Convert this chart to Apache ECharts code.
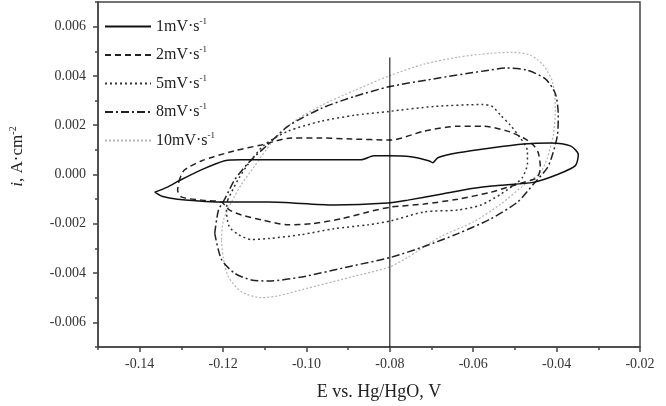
<!DOCTYPE html>
<html>
<head>
<meta charset="utf-8">
<script src="https://cdn.jsdelivr.net/npm/echarts@6/dist/echarts.min.js"></script>
<style>
  html, body { margin: 0; padding: 0; background: #fff; }
  #chart { width: 666px; height: 406px; }
</style>
</head>
<body>
<div id="chart"></div>
<script>
// scan rates (legend labels)
const names = ['1mV·s-1', '2mV·s-1', '5mV·s-1', '8mV·s-1', '10mV·s-1'];

const e1 = [-0.1364, -0.1335, -0.1304, -0.1251, -0.1196, -0.1156, -0.1012, -0.0869, -0.0838, -0.0802, -0.0750, -0.0707, -0.0697, -0.0685, -0.0637, -0.0558, -0.0479, -0.0415, -0.0367, -0.0348, -0.0355, -0.0398, -0.0456, -0.0534, -0.0599, -0.0678, -0.0757, -0.0805, -0.0934, -0.1091, -0.1196, -0.1309, -0.1347, -0.1364];
const i1 = [-0.00072, -0.00052, -0.00024, 0.00020, 0.00056, 0.00060, 0.00060, 0.00060, 0.00076, 0.00076, 0.00072, 0.00056, 0.00048, 0.00068, 0.00088, 0.00108, 0.00124, 0.00128, 0.00116, 0.00080, 0.00036, 0.00000, -0.00032, -0.00044, -0.00056, -0.00080, -0.00104, -0.00116, -0.00124, -0.00112, -0.00112, -0.00100, -0.00088, -0.00072];

const e2 = [-0.1306, -0.1294, -0.1251, -0.1173, -0.1108, -0.1036, -0.0965, -0.0893, -0.0797, -0.0718, -0.0637, -0.0575, -0.0518, -0.0479, -0.0456, -0.0444, -0.0439, -0.0446, -0.0463, -0.0518, -0.0558, -0.0637, -0.0718, -0.0797, -0.0852, -0.0917, -0.0989, -0.1044, -0.1108, -0.1156, -0.1185, -0.1204, -0.1251, -0.1299, -0.1309, -0.1306];
const i2 = [-0.00028, 0.00016, 0.00056, 0.00096, 0.00120, 0.00148, 0.00148, 0.00144, 0.00140, 0.00176, 0.00196, 0.00196, 0.00176, 0.00148, 0.00120, 0.00088, 0.00028, -0.00012, -0.00024, -0.00052, -0.00072, -0.00100, -0.00120, -0.00132, -0.00152, -0.00180, -0.00200, -0.00204, -0.00184, -0.00164, -0.00144, -0.00112, -0.00104, -0.00092, -0.00064, -0.00028];

const e3 = [-0.1189, -0.1180, -0.1161, -0.1139, -0.1101, -0.1044, -0.0965, -0.0886, -0.0802, -0.0695, -0.0577, -0.0554, -0.0534, -0.0511, -0.0487, -0.0470, -0.0470, -0.0482, -0.0494, -0.0534, -0.0582, -0.0637, -0.0718, -0.0797, -0.0852, -0.0934, -0.1012, -0.1091, -0.1132, -0.1163, -0.1185, -0.1192, -0.1189];
const i3 = [-0.00104, -0.00072, -0.00012, 0.00044, 0.00120, 0.00176, 0.00216, 0.00240, 0.00256, 0.00276, 0.00284, 0.00276, 0.00240, 0.00200, 0.00148, 0.00096, 0.00044, -0.00012, -0.00032, -0.00080, -0.00124, -0.00144, -0.00152, -0.00188, -0.00204, -0.00220, -0.00244, -0.00260, -0.00264, -0.00244, -0.00212, -0.00144, -0.00104];

const e4 = [-0.1220, -0.1211, -0.1196, -0.1173, -0.1139, -0.1096, -0.1044, -0.0965, -0.0886, -0.0802, -0.0695, -0.0575, -0.0520, -0.0472, -0.0427, -0.0403, -0.0396, -0.0398, -0.0410, -0.0422, -0.0456, -0.0494, -0.0558, -0.0637, -0.0718, -0.0797, -0.0893, -0.1012, -0.1091, -0.1132, -0.1173, -0.1204, -0.1220];
const i4 = [-0.00239, -0.00144, -0.00100, -0.00024, 0.00048, 0.00116, 0.00196, 0.00268, 0.00316, 0.00356, 0.00388, 0.00420, 0.00432, 0.00424, 0.00388, 0.00328, 0.00240, 0.00160, 0.00080, 0.00028, -0.00040, -0.00112, -0.00180, -0.00240, -0.00292, -0.00336, -0.00372, -0.00416, -0.00432, -0.00428, -0.00400, -0.00344, -0.00239];

const e5 = [-0.1204, -0.1199, -0.1180, -0.1156, -0.1127, -0.1084, -0.1036, -0.0965, -0.0886, -0.0802, -0.0718, -0.0637, -0.0558, -0.0503, -0.0463, -0.0432, -0.0410, -0.0403, -0.0408, -0.0422, -0.0439, -0.0479, -0.0534, -0.0599, -0.0678, -0.0757, -0.0802, -0.0893, -0.1012, -0.1067, -0.1108, -0.1156, -0.1187, -0.1199, -0.1204];
const i5 = [-0.00264, -0.00184, -0.00112, -0.00040, 0.00028, 0.00128, 0.00208, 0.00280, 0.00340, 0.00400, 0.00448, 0.00476, 0.00492, 0.00496, 0.00484, 0.00444, 0.00376, 0.00268, 0.00160, 0.00068, 0.00008, -0.00044, -0.00120, -0.00192, -0.00252, -0.00336, -0.00376, -0.00416, -0.00468, -0.00492, -0.00500, -0.00476, -0.00416, -0.00344, -0.00264];

// marker line at -80 mV
const markE = [-0.08, -0.08];
const markI = [0.00475, -0.007];

// ticks
const xMajor = [-0.14, -0.12, -0.10, -0.08, -0.06, -0.04, -0.02];
const xMinor = [-0.15, -0.13, -0.11, -0.09, -0.07, -0.05, -0.03];
const yMajor = [-0.006, -0.004, -0.002, 0, 0.002, 0.004, 0.006];
const yMinor = [-0.007, -0.005, -0.003, -0.001, 0.001, 0.003, 0.005, 0.007];

const font = "'Liberation Serif', 'Times New Roman', serif";
const axisColor = '#444';

const zip = (a, b) => a.map((v, k) => [v, b[k]]);

const styles = [
    { color: '#111', width: 1.5, type: 'solid' },
    { color: '#222', width: 1.5, type: [6, 4] },
    { color: '#333', width: 1.5, type: [2, 3] },
    { color: '#222', width: 1.5, type: [8, 3, 2, 3] },
    { color: '#b4b4b4', width: 1.2, type: [2, 2] }
];
const loops = [zip(e1, i1), zip(e2, i2), zip(e3, i3), zip(e4, i4), zip(e5, i5)];

const chart = echarts.init(document.getElementById('chart'), null, { renderer: 'canvas' });

const baseX = {
    type: 'value', min: -0.15, max: -0.02, position: 'bottom',
    splitLine: { show: false }
};
const baseY = {
    type: 'value', min: -0.007, max: 0.007, position: 'left',
    splitLine: { show: false }
};

const option = {
    animation: false,
    backgroundColor: '#fff',
    grid: { left: 96, right: 26, top: 2, bottom: 54, show: true, borderColor: axisColor, borderWidth: 1.5 },
    legend: {
        data: names,
        orient: 'vertical',
        left: 99, top: 12,
        itemWidth: 46, itemHeight: 14, itemGap: 11,
        itemStyle: { opacity: 0 },
        formatter: n => '{b|' + n.replace(/-1$/, '') + '}{sup|-1}',
        textStyle: {
            color: '#222', fontFamily: font, fontSize: 16,
            rich: {
                b: { fontFamily: font, fontSize: 16, color: '#222' },
                sup: { fontFamily: font, fontSize: 9, color: '#222', padding: [0, 0, 10, 0] }
            }
        }
    },
    xAxis: [
        Object.assign({}, baseX, {
            name: 'E vs. Hg/HgO, V', nameLocation: 'middle', nameGap: 36,
            nameTextStyle: { fontFamily: font, fontSize: 18, color: '#222', padding: [0, 0, 0, 20] },
            axisLine: { onZero: false, lineStyle: { color: axisColor, width: 1.5 } },
            axisTick: { customValues: xMajor, length: 5, lineStyle: { color: axisColor, width: 1.5 } },
            axisLabel: { customValues: xMajor, margin: 10, fontFamily: font, fontSize: 14, color: '#333', formatter: v => v.toFixed(2) }
        }),
        Object.assign({}, baseX, {
            axisLine: { show: false, onZero: false },
            axisTick: { customValues: xMinor, length: 3, lineStyle: { color: axisColor, width: 1.5 } },
            axisLabel: { show: false }
        })
    ],
    yAxis: [
        Object.assign({}, baseY, {
            name: '{it|i}, A·cm{sup|-2}', nameLocation: 'middle', nameGap: 70,
            nameTextStyle: {
                fontFamily: font, fontSize: 17, color: '#222', padding: [0, 0, 0, 36],
                rich: {
                    it: { fontFamily: font, fontSize: 17, fontStyle: 'italic', color: '#222' },
                    sup: { fontFamily: font, fontSize: 10, color: '#222', padding: [0, 0, 10, 0] }
                }
            },
            axisLine: { onZero: false, lineStyle: { color: axisColor, width: 1.5 } },
            axisTick: { customValues: yMajor, length: 5, lineStyle: { color: axisColor, width: 1.5 } },
            axisLabel: { customValues: yMajor, margin: 12, fontFamily: font, fontSize: 14, color: '#333', formatter: v => v.toFixed(3) }
        }),
        Object.assign({}, baseY, {
            axisLine: { show: false, onZero: false },
            axisTick: { customValues: yMinor, length: 3, lineStyle: { color: axisColor, width: 1.5 } },
            axisLabel: { show: false }
        })
    ],
    series: loops.map((d, k) => ({
        name: names[k],
        type: 'line',
        data: d,
        symbol: 'none',
        smooth: 0.25,
        lineStyle: styles[k],
        itemStyle: { color: styles[k].color },
        z: 10 - k
    })).concat([{
        name: '-80 mV',
        type: 'line',
        symbol: 'none',
        data: [
            { value: [markE[0], markI[0]], label: { show: true, position: 'top', distance: 17, formatter: '-80 mV', fontFamily: font, fontSize: 17, color: '#222' } },
            { value: [markE[1], markI[1]] }
        ],
        lineStyle: { color: '#000', width: 1 },
        itemStyle: { color: '#000' },
        z: 20
    }])
};

chart.setOption(option);
</script>
</body>
</html>
